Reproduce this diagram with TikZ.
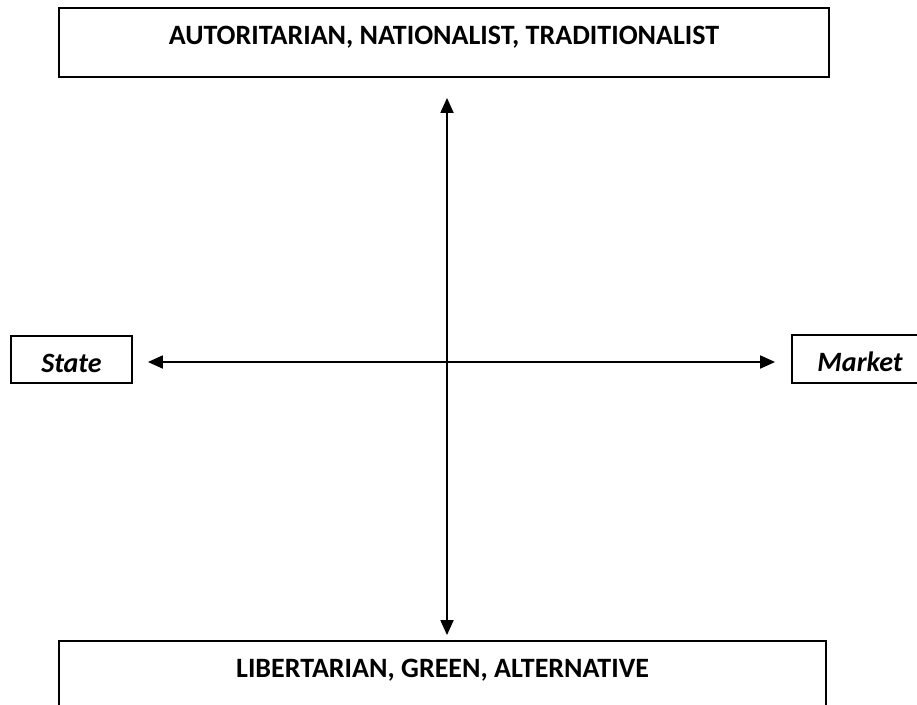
\documentclass[tikz,border=0pt]{standalone}
\usepackage{fontspec}
\setmainfont{Carlito}
\usetikzlibrary{arrows.meta}
\tikzset{
	pole/.style={draw, line width=1.8pt, inner xsep=0pt, inner ysep=0pt, text height=36pt,
		font=\fontsize{28}{33}\selectfont\bfseries},
	econ/.style={pole, font=\fontsize{28}{33}\selectfont\bfseries\itshape},
	axis/.style={line width=1.8pt, {Triangle[length=15pt,width=13pt]}-{Triangle[length=15pt,width=13pt]}}
}
\begin{document}
\begin{tikzpicture}[x=1pt,y=-1pt]
	\useasboundingbox (0,0) rectangle (917,704);
	\clip (0,0) rectangle (917,704);
	\node (top) [pole, anchor=base, minimum width=770pt, text depth=33pt] at (444,44) {AUTORITARIAN, NATIONALIST, TRADITIONALIST};
	\node (bottom) [pole, anchor=base, minimum width=767pt, text depth=43pt] at (442.5,677) {LIBERTARIAN, GREEN, ALTERNATIVE};
	\node (state) [econ, anchor=base, minimum width=121pt, text depth=11pt] at (71.5,372) {State};
	\node (market) [econ, anchor=base, minimum width=136pt, text depth=12pt] at (860,371) {Market};
	\coordinate (c) at (447,362);
	\path[axis]
	(c |- top.south) edge [shorten <=20pt, shorten >=5pt] (c |- bottom.north)
	(state.east |- c) edge [shorten <=15pt, shorten >=16pt] (market.west |- c);
\end{tikzpicture}
\end{document}
